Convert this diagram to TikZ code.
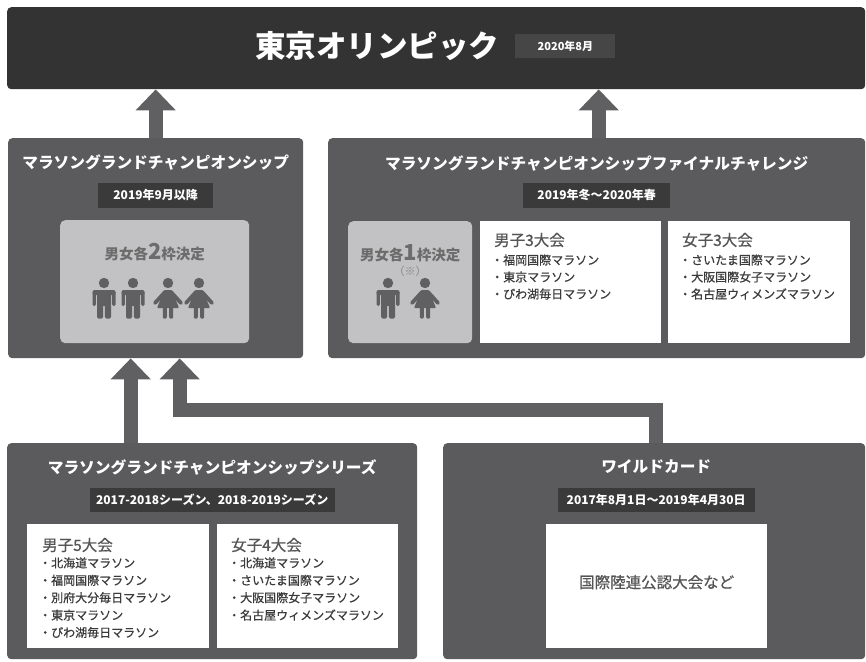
\documentclass[tikz,border=0pt]{standalone}
\usepackage{fontspec}
\setmainfont{Noto Sans CJK JP}
\newfontfamily\medfont[FakeBold=0.6]{Noto Sans CJK JP}
\usetikzlibrary{arrows.meta,positioning,calc}

\definecolor{olyblack}{HTML}{333333}
\definecolor{olybadge}{HTML}{464646}
\definecolor{panelgray}{HTML}{5B5B5D}
\definecolor{arrowgray}{HTML}{606062}
\definecolor{badgegray}{HTML}{3A3A3A}
\definecolor{lightbox}{HTML}{C2C2C4}
\definecolor{figgray}{HTML}{606062}
\definecolor{figtext}{HTML}{6C6C6C}
\definecolor{headtext}{HTML}{555555}
\definecolor{itemtext}{HTML}{3A3A3A}

\tikzset{
  man/.pic={
    \fill[figgray] (0,5) circle (5.2);
    \fill[figgray, rounded corners=2pt] (-11.5,12) rectangle (11.5,17);
    \fill[figgray, rounded corners=1.5pt] (-11.5,13) rectangle (-8.2,28);
    \fill[figgray, rounded corners=1.5pt] (8.2,13) rectangle (11.5,28);
    \fill[figgray, rounded corners=1.5pt] (-7,12) rectangle (7,28);
    \fill[figgray, rounded corners=1.5pt] (-7,26) rectangle (-0.8,40.5);
    \fill[figgray, rounded corners=1.5pt] (0.8,26) rectangle (7,40.5);
  },
  woman/.pic={
    \fill[figgray] (0,5) circle (5.2);
    \draw[figgray, line width=3.8pt, line cap=round] (-3,14) -- (-13,25);
    \draw[figgray, line width=3.8pt, line cap=round] (3,14) -- (13,25);
    \fill[figgray, rounded corners=1pt] (-3.8,12) -- (3.8,12) -- (11,30) -- (-11,30) -- cycle;
    \fill[figgray, rounded corners=1.2pt] (-5.2,28) rectangle (-1.1,40.5);
    \fill[figgray, rounded corners=1.2pt] (1.1,28) rectangle (5.2,40.5);
  }
}

\begin{document}
\begin{tikzpicture}[
    x=1pt, y=-1pt,
    panel/.style={rectangle, fill=panelgray, rounded corners=4pt, inner sep=0pt, anchor=north west},
    quotabox/.style={rectangle, fill=lightbox, rounded corners=5pt, inner sep=0pt, anchor=north west},
    listbox/.style={rectangle, fill=white, inner sep=0pt, anchor=north west},
    olytitle/.style={text=white, inner sep=0pt, font=\bfseries\fontsize{30.5}{30.5}\selectfont},
    olydate/.style={fill=olybadge, text=white, inner sep=0pt, minimum width=100pt, minimum height=24pt, font=\bfseries\fontsize{11}{11}\selectfont},
    paneltitle/.style={text=white, inner sep=0pt, font=\bfseries\fontsize{15.7}{15.7}\selectfont},
    datebadge/.style={fill=badgegray, text=white, inner sep=0pt, minimum height=25pt, font=\bfseries\fontsize{12}{12}\selectfont},
    quota/.style={text=figtext, inner sep=0pt, font=\bfseries\fontsize{14.5}{14.5}\selectfont},
    listhead/.style={text=headtext, inner sep=0pt, anchor=west, font=\medfont\fontsize{15.5}{15.5}\selectfont},
    listitem/.style={text=itemtext, inner sep=0pt, anchor=west, font=\medfont\fontsize{12}{12}\selectfont},
    bigarrow/.style={draw=arrowgray, line width=14pt, -{Triangle[width=39pt,length=21pt]}}
]
\path[use as bounding box, fill=white] (0,0) rectangle (866,661);

% Olympic
\node[panel, fill=olyblack, minimum width=858pt, minimum height=82pt] (oly) at (7,7) {};
\node[olytitle] (olytitle) at (377,46) {東京オリンピック};
\node[olydate, right=16pt of olytitle] (olydate) {2020年8月};

% MGC
\node[panel, minimum width=295pt, minimum height=220pt] (mgc) at (8,138) {};
\node[paneltitle] (mgctitle) at ($(mgc.north)+(0,24)$) {マラソングランドチャンピオンシップ};
\node[datebadge, minimum width=115pt] (mgcdate) at ($(mgc.north)+(0,57)$) {2019年9月以降};
\node[quotabox, minimum width=189pt, minimum height=123pt] (mgcq) at (60,220) {};
\node[quota] (mgcqtext) at ($(mgcq.north)+(0,32)$) {男女各{\fontsize{22}{22}\selectfont 2}枠決定};
\pic at ($(mgcq.north west)+(44,58)$) {man};
\pic at ($(mgcq.north west)+(73,58)$) {man};
\pic at ($(mgcq.north west)+(108,58)$) {woman};
\pic at ($(mgcq.north west)+(139,58)$) {woman};

% MGC Final Challenge
\node[panel, minimum width=537pt, minimum height=220pt] (fc) at (328,138) {};
\node[paneltitle] (fctitle) at ($(fc.north)+(0,25)$) {マラソングランドチャンピオンシップファイナルチャレンジ};
\node[datebadge, minimum width=147pt] (fcdate) at ($(fc.north)+(0,57)$) {2019年冬〜2020年春};
\node[quotabox, minimum width=124pt, minimum height=122pt] (fcq) at (348,221) {};
\node[quota] (fcqtext) at ($(fcq.north)+(0,32)$) {男女各{\fontsize{22}{22}\selectfont 1}枠決定};
\node[quota, font=\fontsize{11}{11}\selectfont, text=figtext!80] (fcqnote) at ($(fcq.north)+(0,50)$) {（※）};
\pic at ($(fcq.north west)+(40,57)$) {man};
\pic at ($(fcq.north west)+(77,57)$) {woman};

\node[listbox, minimum width=181pt, minimum height=122pt] (fcmen) at (480,221) {};
\node[listhead] (fcmenhead) at ($(fcmen.north west)+(14,19)$) {男子3大会};
\foreach \t [count=\i] in {・福岡国際マラソン, ・東京マラソン, ・びわ湖毎日マラソン}
  \node[listitem] (fcmen\i) at ($(fcmen.north west)+(11,22+17*\i)$) {\t};

\node[listbox, minimum width=182pt, minimum height=122pt] (fcwomen) at (668,221) {};
\node[listhead] (fcwomenhead) at ($(fcwomen.north west)+(14,19)$) {女子3大会};
\foreach \t [count=\i] in {・さいたま国際マラソン, ・大阪国際女子マラソン, ・名古屋ウィメンズマラソン}
  \node[listitem] (fcwomen\i) at ($(fcwomen.north west)+(11,22+17*\i)$) {\t};

% MGC Series
\node[panel, minimum width=410pt, minimum height=216pt] (series) at (7,443) {};
\node[paneltitle] (sertitle) at ($(series.north)+(0,24)$) {マラソングランドチャンピオンシップシリーズ};
\node[datebadge, minimum width=245pt, minimum height=24pt] (serdate) at ($(series.north)+(0,57)$) {2017-2018シーズン、2018-2019シーズン};

\node[listbox, minimum width=182pt, minimum height=124pt] (sermen) at (27,524) {};
\node[listhead] (sermenhead) at ($(sermen.north west)+(15,21)$) {男子5大会};
\foreach \t [count=\i] in {・北海道マラソン, ・福岡国際マラソン, ・別府大分毎日マラソン, ・東京マラソン, ・びわ湖毎日マラソン}
  \node[listitem] (sermen\i) at ($(sermen.north west)+(12,21.5+17.4*\i)$) {\t};

\node[listbox, minimum width=181pt, minimum height=124pt] (serwomen) at (217,524) {};
\node[listhead] (serwomenhead) at ($(serwomen.north west)+(14,21)$) {女子4大会};
\foreach \t [count=\i] in {・北海道マラソン, ・さいたま国際マラソン, ・大阪国際女子マラソン, ・名古屋ウィメンズマラソン}
  \node[listitem] (serwomen\i) at ($(serwomen.north west)+(11,21.5+17.4*\i)$) {\t};

% Wild card
\node[panel, minimum width=422pt, minimum height=216pt] (wc) at (443,443) {};
\node[paneltitle] (wctitle) at ($(wc.north)+(2,24)$) {ワイルドカード};
\node[datebadge, minimum width=197pt, minimum height=24pt] (wcdate) at ($(wc.north)+(2,57)$) {2017年8月1日〜2019年4月30日};
\node[listbox, minimum width=221pt, minimum height=124pt] (wcbox) at (546,524) {};
\node[listhead, anchor=center] (wctext) at ($(wcbox.center)+(0,-4)$) {国際陸連公認大会など};

% Arrows
\coordinate (mgcup) at (mgc.north);
\coordinate (fcup) at ([xshift=2pt]fc.north);
\coordinate (serup) at ([xshift=-25pt]mgc.south);
\coordinate (wcin) at ([xshift=24pt]mgc.south);
\draw[bigarrow] (mgcup) -- (mgcup |- oly.south);
\draw[bigarrow] (fcup) -- (fcup |- oly.south);
\draw[bigarrow] (serup |- series.north) -- (serup);
\draw[bigarrow] ([xshift=2pt]wc.north) -- ++(0,-33) -| (wcin);

\end{tikzpicture}
\end{document}
